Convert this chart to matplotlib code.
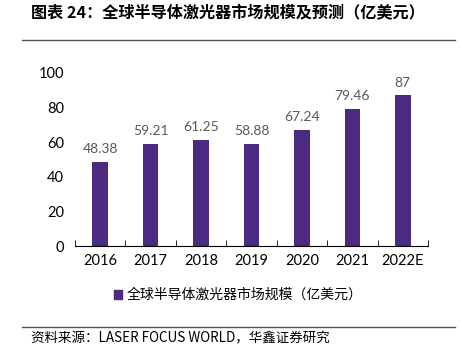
import numpy as np
import matplotlib
matplotlib.use("Agg")
import matplotlib.pyplot as plt
from matplotlib.lines import Line2D

plt.rcParams['font.family'] = ['Lato', 'Noto Sans CJK SC', 'DejaVu Sans']

years = ["2016", "2017", "2018", "2019", "2020", "2021", "2022E"]
values = [48.38, 59.21, 61.25, 58.88, 67.24, 79.46, 87]
labels = ["48.38", "59.21", "61.25", "58.88", "67.24", "79.46", "87"]
BAR = "#4B2A80"
CJK = ['Noto Sans CJK SC', 'DejaVu Sans']

fig = plt.figure(figsize=(4.62, 3.53), dpi=100)
ax = fig.add_axes([75 / 462, 1 - 246 / 353, 353 / 462, 173 / 353])

x = np.arange(len(years))
ax.bar(x, values, width=0.31, color=BAR, zorder=2)
for xi, v, lab in zip(x, values, labels):
    ax.text(xi, v + 4, lab, ha="center", va="bottom", fontsize=10, color="#595959")

ax.set_xlim(-0.5, len(years) - 0.5)
ax.set_ylim(0, 100)
ax.set_yticks(range(0, 101, 20))
ax.set_xticks(x)
ax.set_xticklabels(years, fontsize=10.5)
ax.tick_params(axis="x", length=0, pad=6)
ax.set_xticks(np.arange(-0.5, len(years)), minor=True)
ax.tick_params(axis="x", which="minor", direction="in", length=4, color="black")
ax.tick_params(axis="y", length=0, labelsize=10.5, pad=8)
for s in ["top", "right", "left"]:
    ax.spines[s].set_visible(False)
ax.spines["bottom"].set_color("black")

# title and rules
fig.text(31 / 462, 1 - 13 / 353, "图表 24：全球半导体激光器市场规模及预测（亿美元）",
         fontsize=11.6, fontweight="bold", family=CJK, va="center")
fig.add_artist(Line2D([22 / 462, 455 / 462], [1 - 40 / 353] * 2, color="#555555", lw=1))
fig.add_artist(Line2D([22 / 462, 455 / 462], [1 - 327 / 353] * 2, color="#555555", lw=1))

# legend
h = plt.Rectangle((0, 0), 1, 1, color=BAR)
fig.legend([h], ["全球半导体激光器市场规模（亿美元）"], loc="center",
           bbox_to_anchor=(238 / 462, 1 - 295 / 353), frameon=False,
           prop={"family": CJK, "size": 10}, handlelength=0.6, handleheight=0.6,
           handletextpad=0.3)

fig.text(31 / 462, 1 - 338 / 353, "资料来源：LASER FOCUS WORLD，华鑫证券研究",
         fontsize=9.7, family=CJK, va="center")

fig.savefig("out.png", dpi=100)
